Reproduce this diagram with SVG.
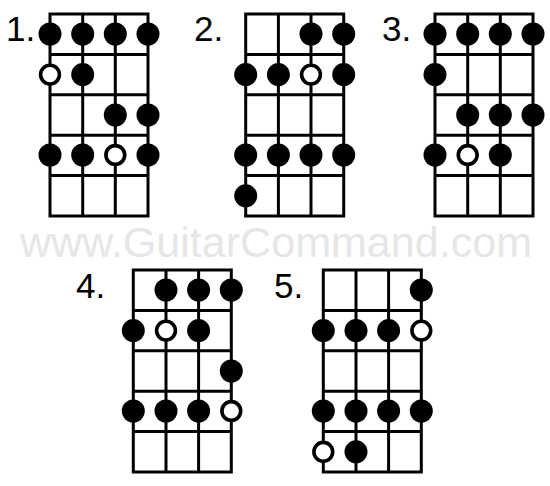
<svg xmlns="http://www.w3.org/2000/svg" xmlns:xlink="http://www.w3.org/1999/xlink" width="550" height="486" viewBox="0 0 550 486">
<style>
.g{fill:none;stroke:#000;stroke-width:3}
.f{fill:#000}
.o{fill:#fff;stroke:#000;stroke-width:3.6}
.lbl{font-family:"Liberation Sans",Arial,sans-serif;font-size:35px;fill:#000}
.wm{font-family:"Liberation Sans",Arial,sans-serif;font-size:42px;fill:#e6e6e6}
</style>
<defs>
<g id="grid" class="g">
<rect x="0" y="0" width="98" height="202"/>
<path d="M32.7 0V202M65.3 0V202M0 40.4H98M0 80.8H98M0 121.2H98M0 161.6H98"/>
</g>
<circle id="F" r="11.5" class="f"/>
<circle id="O" r="9.4" class="o"/>
</defs>
<rect width="550" height="486" fill="#fff"/>
<text class="wm" x="20" y="256.5" textLength="512" lengthAdjust="spacingAndGlyphs">www.GuitarCommand.com</text>
<g id="connectors"/>
<g id="d1" transform="translate(50,14)">
<use xlink:href="#grid"/>
<use xlink:href="#F" x="0" y="20"/><use xlink:href="#F" x="32.7" y="20"/><use xlink:href="#F" x="65.3" y="20"/><use xlink:href="#F" x="98" y="20"/>
<use xlink:href="#O" x="0" y="60.6"/><use xlink:href="#F" x="32.7" y="60.6"/>
<use xlink:href="#F" x="65.3" y="101"/><use xlink:href="#F" x="98" y="101"/>
<use xlink:href="#F" x="0" y="141"/><use xlink:href="#F" x="32.7" y="141"/><use xlink:href="#O" x="65.3" y="141"/><use xlink:href="#F" x="98" y="141"/>
</g>
<text class="lbl" x="6" y="41">1.</text>
<g id="d2" transform="translate(245.7,14)">
<use xlink:href="#grid"/>
<use xlink:href="#F" x="65.3" y="20"/><use xlink:href="#F" x="98" y="20"/>
<use xlink:href="#F" x="0" y="60.6"/><use xlink:href="#F" x="32.7" y="60.6"/><use xlink:href="#O" x="65.3" y="60.6"/><use xlink:href="#F" x="98" y="60.6"/>
<use xlink:href="#F" x="0" y="141"/><use xlink:href="#F" x="32.7" y="141"/><use xlink:href="#F" x="65.3" y="141"/><use xlink:href="#F" x="98" y="141"/>
<use xlink:href="#F" x="0" y="181.8"/>
</g>
<text class="lbl" x="194" y="41">2.</text>
<g id="d3" transform="translate(435,14)">
<use xlink:href="#grid"/>
<use xlink:href="#F" x="0" y="20"/><use xlink:href="#F" x="32.7" y="20"/><use xlink:href="#F" x="65.3" y="20"/><use xlink:href="#F" x="98" y="20"/>
<use xlink:href="#F" x="0" y="60.6"/>
<use xlink:href="#F" x="32.7" y="101"/><use xlink:href="#F" x="65.3" y="101"/><use xlink:href="#F" x="98" y="101"/>
<use xlink:href="#F" x="0" y="141"/><use xlink:href="#O" x="32.7" y="141"/><use xlink:href="#F" x="65.3" y="141"/>
</g>
<text class="lbl" x="382" y="41">3.</text>
<g id="d4" transform="translate(133.3,270)">
<use xlink:href="#grid"/>
<use xlink:href="#F" x="32.7" y="20"/><use xlink:href="#F" x="65.3" y="20"/><use xlink:href="#F" x="98" y="20"/>
<use xlink:href="#F" x="0" y="60.6"/><use xlink:href="#O" x="32.7" y="60.6"/><use xlink:href="#F" x="65.3" y="60.6"/>
<use xlink:href="#F" x="98" y="101"/>
<use xlink:href="#F" x="0" y="141"/><use xlink:href="#F" x="32.7" y="141"/><use xlink:href="#F" x="65.3" y="141"/><use xlink:href="#O" x="98" y="141"/>
</g>
<text class="lbl" x="76" y="297.5">4.</text>
<g id="d5" transform="translate(323.3,270)">
<use xlink:href="#grid"/>
<use xlink:href="#F" x="98" y="20"/>
<use xlink:href="#F" x="0" y="60.6"/><use xlink:href="#F" x="32.7" y="60.6"/><use xlink:href="#F" x="65.3" y="60.6"/><use xlink:href="#O" x="98" y="60.6"/>
<use xlink:href="#F" x="0" y="141"/><use xlink:href="#F" x="32.7" y="141"/><use xlink:href="#F" x="65.3" y="141"/><use xlink:href="#F" x="98" y="141"/>
<use xlink:href="#O" x="0" y="181.8"/><use xlink:href="#F" x="32.7" y="181.8"/>
</g>
<text class="lbl" x="274" y="297.5">5.</text>
</svg>
